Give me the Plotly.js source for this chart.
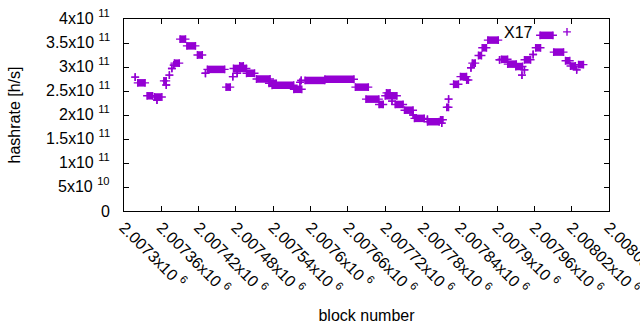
<!DOCTYPE html>
<html><head><meta charset="utf-8">
<script src="https://cdn.plot.ly/plotly-3.0.1.min.js"></script>
<style>html,body{margin:0;padding:0;background:#fff;}#chart{width:640px;height:330px;}</style>
</head><body><div id="chart"></div>
<script>
// Runs of points (start block, end block, hashrate in h/s)
const segStart = [2007318,2007322,2007337,2007349,2007353,2007364,2007368,2007373,2007377,2007380,
  2007381,2007390,2007401,2007418,2007431,2007434,2007464,2007475,2007476,2007486,
  2007482,2007497,2007513,2007533,2007538,2007573,2007583,2007585,2007591,2007623,
  2007672,2007689,2007710,2007720,2007722,2007731,2007736,2007751,2007765,2007767,
  2007788,2007788,2007809,2007811,2007819,2007822,2007830,2007841,2007851,2007858,
  2007860,2007870,2007876,2007885,2007904,2007907,2007917,2007930,2007940,2007944,
  2007944,2007958,2007962,2007969,2007991,2008010,2008018,2008028,2008031];
const segEnd = [2007318,2007334,2007346,2007361,2007353,2007368,2007368,2007373,2007377,2007380,
  2007389,2007399,2007415,2007426,2007431,2007462,2007471,2007475,2007497,2007492,
  2007482,2007510,2007535,2007545,2007573,2007586,2007583,2007585,2007623,2007670,
  2007693,2007710,2007717,2007739,2007728,2007731,2007749,2007765,2007765,2007783,
  2007788,2007807,2007813,2007811,2007822,2007822,2007838,2007851,2007854,2007858,
  2007865,2007875,2007883,2007902,2007904,2007917,2007931,2007941,2007940,2007944,
  2007954,2007958,2007970,2007990,2008007,2008017,2008026,2008028,2008039];
const segRate = [2.79e11,2.67e11,2.40e11,2.375e11,2.31e11,2.71e11,2.625e11,2.83e11,2.97e11,3.04e11,
  3.08e11,3.58e11,3.44e11,3.25e11,2.87e11,2.95e11,2.58e11,2.80e11,2.97e11,3.02e11,
  2.87e11,2.87e11,2.75e11,2.66e11,2.62e11,2.535e11,2.68e11,2.72e11,2.72e11,2.745e11,
  2.58e11,2.33e11,2.22e11,2.40e11,2.46e11,2.29e11,2.22e11,2.10e11,2.00e11,1.93e11,
  1.91e11,1.86e11,1.90e11,1.83e11,2.16e11,2.33e11,2.64e11,2.80e11,2.73e11,2.985e11,
  3.08e11,3.24e11,3.40e11,3.56e11,3.15e11,3.16e11,3.06e11,3.01e11,2.83e11,2.94e11,
  3.15e11,3.26e11,3.40e11,3.66e11,3.31e11,3.13e11,3.02e11,2.94e11,3.05e11];

const xTickVals = [2007300,2007360,2007420,2007480,2007540,2007600,2007660,2007720,2007780,2007840,2007900,2007960,2008020,2008080];
const xTickText = ["2.0073x10 <sup>6</sup>","2.00736x10 <sup>6</sup>","2.00742x10 <sup>6</sup>","2.00748x10 <sup>6</sup>",
  "2.00754x10 <sup>6</sup>","2.0076x10 <sup>6</sup>","2.00766x10 <sup>6</sup>","2.00772x10 <sup>6</sup>",
  "2.00778x10 <sup>6</sup>","2.00784x10 <sup>6</sup>","2.0079x10 <sup>6</sup>","2.00796x10 <sup>6</sup>",
  "2.00802x10 <sup>6</sup>","2.00808x10 <sup>6</sup>"];
const yTickVals = [0,5e10,1e11,1.5e11,2e11,2.5e11,3e11,3.5e11,4e11];
const yTickText = ["0","5x10 <sup>10</sup>","1x10 <sup>11</sup>","1.5x10 <sup>11</sup>","2x10 <sup>11</sup>",
  "2.5x10 <sup>11</sup>","3x10 <sup>11</sup>","3.5x10 <sup>11</sup>","4x10 <sup>11</sup>"];
const seriesName = "X17";

const color = "#9400d3";
const font = "Liberation Sans, Arial, DejaVu Sans, sans-serif";

// thick runs of overlapping points
const lx = [], ly = [];
for (let i = 0; i < segStart.length; i++) {
  lx.push(segStart[i], segEnd[i], null);
  ly.push(segRate[i], segRate[i], null);
}
const mx = segStart.concat(segEnd);
const my = segRate.concat(segRate);

const traces = [
  {x: lx, y: ly, type: "scatter", mode: "lines", line: {color: color, width: 7.5}, showlegend: false, hoverinfo: "skip"},
  {x: mx, y: my, type: "scatter", mode: "markers", name: " ",
   marker: {symbol: "cross-thin-open", size: 5.6, color: color, line: {color: color, width: 1.4}}}
];

const axisCommon = {
  showline: true, linecolor: "#000", linewidth: 1, mirror: "ticks",
  ticks: "inside", ticklen: 5, tickcolor: "#000", tickwidth: 1,
  showgrid: false, zeroline: false, ticklabeloverflow: "allow",
  tickfont: {family: font, size: 16, color: "#000"}
};

// y tick labels as text beside the axis at each tick value
const yLabelAnn = yTickVals.map((v, i) => ({
  text: yTickText[i], xref: "paper", yref: "y", x: 0, y: v,
  xanchor: "right", yanchor: "middle", xshift: -12, yshift: (i === 0 ? 0 : 2),
  showarrow: false, font: {family: font, size: 16, color: "#000"}
}));

const layout = {
  width: 640, height: 330,
  margin: {l: 124, r: 31, t: 19, b: 119},
  paper_bgcolor: "#fff", plot_bgcolor: "#fff",
  font: {family: font, size: 16, color: "#000"},
  xaxis: Object.assign({}, axisCommon, {
    range: [2007300, 2008080], tickmode: "array", tickvals: xTickVals, ticktext: xTickText,
    tickangle: 45, title: {text: "block number", font: {family: font, size: 16}, standoff: 13}
  }),
  yaxis: Object.assign({}, axisCommon, {
    range: [0, 4e11], tickmode: "array", tickvals: yTickVals, showticklabels: false,
    title: {text: "hashrate [h/s]", font: {family: font, size: 16}, standoff: 98}
  }),
  showlegend: true,
  legend: {x: (547 - 124) / 485, y: 1.021, xanchor: "left", yanchor: "top",
    bgcolor: "rgba(0,0,0,0)", font: {family: font, size: 16}},
  annotations: yLabelAnn.concat([{text: seriesName, xref: "paper", yref: "paper", x: (535 - 124) / 485, y: (211 - 32) / 192,
    xanchor: "right", yanchor: "middle", showarrow: false, font: {family: font, size: 16, color: "#000"}}])
};

Plotly.newPlot("chart", traces, layout, {staticPlot: true, displayModeBar: false});
</script>
</body></html>
